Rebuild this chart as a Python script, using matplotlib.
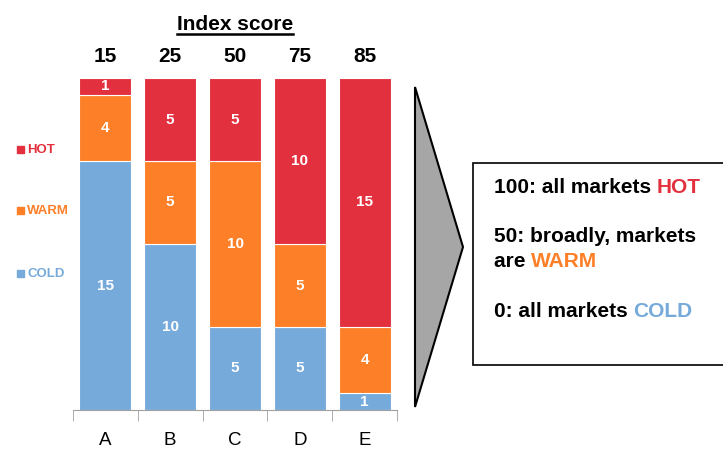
import matplotlib.pyplot as plt
import matplotlib.patches as mpatches
from matplotlib.lines import Line2D
import numpy as np

plt.rcParams['font.family'] = ['Liberation Sans', 'DejaVu Sans']

categories = ['A', 'B', 'C', 'D', 'E']
index_score = [15, 25, 50, 75, 85]
cold = [15, 10, 5, 5, 1]
warm = [4, 5, 10, 5, 4]
hot = [1, 5, 5, 10, 15]

c_hot = '#e3303f'
c_warm = '#fd7f28'
c_cold = '#76aadb'

fig = plt.figure(figsize=(7.23, 4.5), dpi=100)
ax = fig.add_axes([73 / 723, 40 / 450, 324 / 723, 332 / 450])

x = np.arange(len(categories))
w = 0.8
b1 = ax.bar(x, cold, w, color=c_cold, edgecolor='white', linewidth=0.8)
b2 = ax.bar(x, warm, w, bottom=cold, color=c_warm, edgecolor='white', linewidth=0.8)
b3 = ax.bar(x, hot, w, bottom=np.add(cold, warm), color=c_hot, edgecolor='white', linewidth=0.8)
for b in (b1, b2, b3):
    ax.bar_label(b, label_type='center', color='white', fontsize=11, fontweight='bold')

ax.set_xlim(-0.5, len(categories) - 0.5)
ax.set_ylim(0, 20)
ax.set_xticks(x)
ax.set_xticklabels(categories, fontsize=13.5)
ax.set_xticks(np.arange(len(categories) + 1) - 0.5, minor=True)
ax.tick_params(axis='x', which='major', length=0, pad=16)
ax.tick_params(axis='x', which='minor', length=8, color='#a0a0a0', direction='out')
ax.set_yticks([])
for s in ['top', 'right', 'left']:
    ax.spines[s].set_visible(False)
ax.spines['bottom'].set_color('#a0a0a0')

# index scores above the bars
for xi, s in zip(x, index_score):
    ax.text(xi, 1.066, str(s), transform=ax.get_xaxis_transform(), ha='center', va='center',
            fontsize=15, fontweight='bold')

title = fig.text(235 / 723, 1 - 24 / 450, 'Index score', ha='center', va='center',
                 fontsize=15, fontweight='bold')

# legend on the left
for lab, col, yy in [('HOT', c_hot, 150), ('WARM', c_warm, 211), ('COLD', c_cold, 274)]:
    fig.patches.append(mpatches.Rectangle((17 / 723, 1 - (yy + 3) / 450), 7 / 723, 7 / 450,
                                          transform=fig.transFigure, color=col))
    fig.text(27 / 723, 1 - yy / 450, lab, color=col, fontsize=9.5, fontweight='bold',
             va='center', ha='left')

# arrow shape
tri = mpatches.Polygon([(415 / 723, 1 - 87 / 450), (463 / 723, 1 - 247 / 450), (415 / 723, 1 - 407 / 450)],
                       closed=True, transform=fig.transFigure, facecolor='#a6a6a6',
                       edgecolor='black', linewidth=1.5)
fig.patches.append(tri)

# explanation box
box = mpatches.Rectangle((473 / 723, 1 - 365 / 450), 260 / 723, 202 / 450,
                         transform=fig.transFigure, facecolor='white', edgecolor='black',
                         linewidth=1.2)
fig.patches.append(box)

fs = 15
lines = [
    (193, '100: all markets ', 'HOT', c_hot),
    (242, '50: broadly, markets', None, None),
    (267, 'are ', 'WARM', c_warm),
    (317, '0: all markets ', 'COLD', c_cold),
]
placed = []
for yy, txt, word, col in lines:
    t = fig.text(494 / 723, 1 - yy / 450, txt, fontsize=fs, fontweight='bold', va='baseline', ha='left')
    placed.append((t, word, col))

fig.canvas.draw()
inv = fig.transFigure.inverted()
for t, word, col in placed:
    if word:
        bb = t.get_window_extent().transformed(inv)
        fig.text(bb.x1, t.get_position()[1], word, fontsize=fs, fontweight='bold', color=col,
                 va='baseline', ha='left')

# underline the title
bb = title.get_window_extent().transformed(inv)
fig.add_artist(Line2D([bb.x0, bb.x1], [bb.y0 - 0.002, bb.y0 - 0.002], color='black',
                      linewidth=1.8, transform=fig.transFigure))

fig.savefig('out.png', dpi=100)
